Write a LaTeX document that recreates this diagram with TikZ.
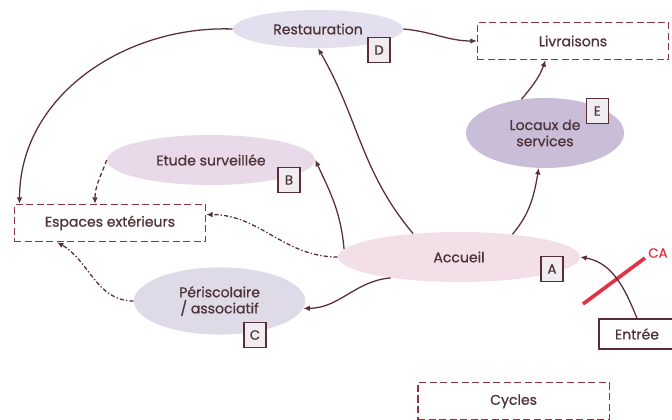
\documentclass[tikz,border=0pt]{standalone}
\usepackage{fontspec}
\setmainfont{Poppins}[FakeBold=0.8]
\usetikzlibrary{arrows.meta,shapes.geometric}
\definecolor{Ink}{HTML}{4E3438}
\definecolor{Wine}{HTML}{8A3444}
\definecolor{Edge}{HTML}{5A2E36}
\definecolor{Lav}{HTML}{E3DFEE}
\definecolor{PinkLav}{HTML}{E8DAE8}
\definecolor{DeepLav}{HTML}{C9BDD7}
\definecolor{Blush}{HTML}{F3DFE8}
\definecolor{GreyLav}{HTML}{DEDAE8}
\definecolor{Cut}{HTML}{E23345}
\definecolor{Tag}{HTML}{F1ECF2}

\begin{document}
\begin{tikzpicture}[
  zone/.style={ellipse,inner sep=0pt,font=\fontsize{10}{11.5}\selectfont,text=Ink,align=center},
  ext/.style={rectangle,draw=Wine,dash pattern=on 5pt off 2.5pt,line width=0.9pt,minimum width=4.78cm,minimum height=0.93cm,font=\fontsize{10}{11.5}\selectfont,text=Ink},
  tag/.style={rectangle,draw=Edge,fill=Tag,line width=1pt,minimum width=0.55cm,minimum height=0.62cm,inner sep=0pt,font=\fontsize{9.5}{10}\selectfont,text=Ink},
  link/.style={draw=Edge,line width=0.9pt,-{Latex[length=4.5pt,width=4pt]}},
  soft/.style={link,dash pattern=on 3pt off 1.5pt on 1pt off 1.5pt},
  dashlink/.style={link,dash pattern=on 3pt off 2pt}
]
\fill[white] (0,0) rectangle (16.8,10.475);
\useasboundingbox (0,0) rectangle (16.8,10.475);
\node[zone,fill=Lav,minimum width=4.25cm,minimum height=0.95cm] (rest) at (7.95,9.75) {Restauration};
\node[ext] (livr) at (14.325,9.45) {Livraisons};
\node[zone,fill=DeepLav,minimum width=3.95cm,minimum height=1.75cm] (loc) at (13.625,7.15) {Locaux de\\services};
\node[zone,fill=PinkLav,minimum width=5.2cm,minimum height=1.25cm] (etude) at (5.275,6.475) {Etude surveillée};
\node[ext] (esp) at (2.75,4.9) {Espaces extérieurs};
\node[zone,fill=Blush,minimum width=6.05cm,minimum height=1.25cm] (acc) at (11.475,4.05) {Accueil};
\node[zone,fill=GreyLav,minimum width=4.28cm,minimum height=1.68cm] (peri) at (5.49,2.95) {Périscolaire\\/ associatif};
\node[draw=Edge,line width=1pt,fill=white,minimum width=1.9cm,minimum height=0.75cm,font=\fontsize{10}{11.5}\selectfont,text=Ink] (entree) at (15.925,2.125) {Entrée};
\node[ext] (cyc) at (12.84,0.44) {Cycles};
\node[tag] (tD) at (9.475,9.225) {D};
\node[tag] (tE) at (14.93,7.7) {E};
\node[tag] (tB) at (7.225,5.975) {B};
\node[tag] (tA) at (13.8,3.75) {A};
\node[tag] (tC) at (6.375,2.1) {C};
\draw[Cut,line width=2.6pt] (14.575,2.875) -- (16.125,4.025);
\node[text=Cut,anchor=west,inner sep=0pt,font=\fontsize{9.5}{10}\selectfont] (ca) at (16.2,4.15) {CA};
\foreach \a/\b/\o/\i in {rest.east/livr.west/-5/180,rest.west/esp.168/178/90,acc.153/rest.south/130/-60,acc.176/etude.east/95/-65,acc.23/loc.-100/50/-100,loc.125/livr.-145/50/-110,acc.197/peri.-5/185/0,entree.north/acc.east/112/-10} {
  \draw[link] (\a) to[out=\o,in=\i] (\b);
}
\draw[soft] (acc.180) to[out=180,in=0] (esp.5);
\draw[soft] (peri.west) to[out=180,in=-30] (esp.-160);
\draw[dashlink] (etude.west) to[out=-110,in=90] (esp.128);
\end{tikzpicture}
\end{document}
